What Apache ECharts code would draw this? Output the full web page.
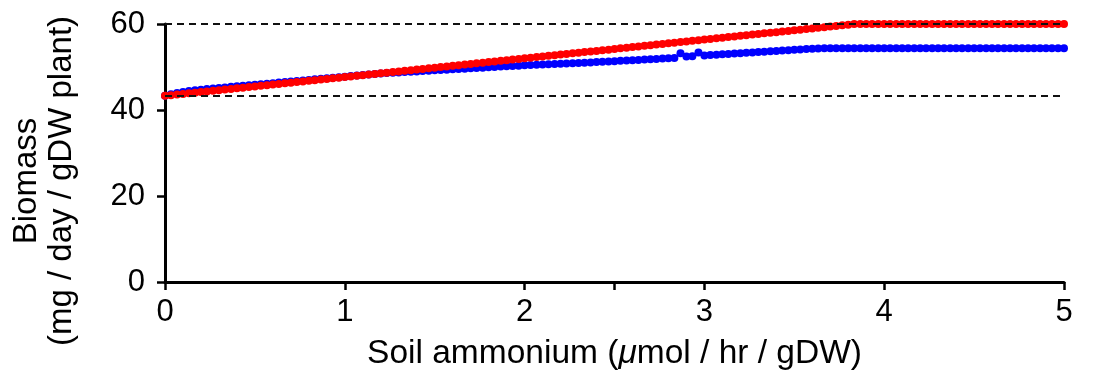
<!DOCTYPE html>
<html>
<head>
<meta charset="utf-8">
<script src="https://cdn.jsdelivr.net/npm/echarts@6/dist/echarts.min.js"></script>
<style>
  html, body { margin: 0; padding: 0; background: #fff; }
  #chart-biomass { width: 1096px; height: 376px; }
</style>
</head>
<body>
<div id="chart-biomass"></div>
<script>
// soil ammonium uptake (x), one sample every ~1/30
var ammonium = [
  0, 0.033, 0.067, 0.1, 0.133, 0.167, 0.2, 0.233, 0.267, 0.3, 0.333, 0.367, 0.4, 0.433, 0.467,
  0.5, 0.533, 0.567, 0.6, 0.633, 0.667, 0.7, 0.733, 0.767, 0.8, 0.833, 0.867, 0.9, 0.933, 0.967,
  1, 1.033, 1.067, 1.1, 1.133, 1.167, 1.2, 1.233, 1.267, 1.3, 1.333, 1.367, 1.4, 1.433, 1.467,
  1.5, 1.533, 1.567, 1.6, 1.633, 1.667, 1.7, 1.733, 1.767, 1.8, 1.833, 1.867, 1.9, 1.933, 1.967,
  2, 2.033, 2.067, 2.1, 2.133, 2.167, 2.2, 2.233, 2.267, 2.3, 2.333, 2.367, 2.4, 2.433, 2.467,
  2.5, 2.533, 2.567, 2.6, 2.633, 2.667, 2.7, 2.733, 2.767, 2.8, 2.833, 2.867, 2.9, 2.933, 2.967,
  3, 3.033, 3.067, 3.1, 3.133, 3.167, 3.2, 3.233, 3.267, 3.3, 3.333, 3.367, 3.4, 3.433, 3.467,
  3.5, 3.533, 3.567, 3.6, 3.633, 3.667, 3.7, 3.733, 3.767, 3.8, 3.833, 3.867, 3.9, 3.933, 3.967,
  4, 4.033, 4.067, 4.1, 4.133, 4.167, 4.2, 4.233, 4.267, 4.3, 4.333, 4.367, 4.4, 4.433, 4.467,
  4.5, 4.533, 4.567, 4.6, 4.633, 4.667, 4.7, 4.733, 4.767, 4.8, 4.833, 4.867, 4.9, 4.933, 4.967,
  5
];

// red series
var biomassRed = [
  43.30, 43.45, 43.59, 43.74, 43.88, 44.03, 44.17, 44.32, 44.46, 44.61, 44.75, 44.90, 45.04, 45.19, 45.33,
  45.48, 45.62, 45.77, 45.91, 46.06, 46.20, 46.35, 46.49, 46.64, 46.78, 46.93, 47.08, 47.22, 47.37, 47.51,
  47.66, 47.80, 47.95, 48.09, 48.24, 48.38, 48.53, 48.67, 48.82, 48.96, 49.11, 49.25, 49.40, 49.54, 49.69,
  49.83, 49.98, 50.12, 50.27, 50.41, 50.56, 50.71, 50.85, 51.00, 51.14, 51.29, 51.43, 51.58, 51.72, 51.87,
  52.01, 52.16, 52.30, 52.45, 52.59, 52.74, 52.88, 53.03, 53.17, 53.32, 53.46, 53.61, 53.75, 53.90, 54.04,
  54.19, 54.34, 54.48, 54.63, 54.77, 54.92, 55.06, 55.21, 55.35, 55.50, 55.64, 55.79, 55.93, 56.08, 56.22,
  56.37, 56.51, 56.66, 56.80, 56.95, 57.09, 57.24, 57.38, 57.53, 57.67, 57.82, 57.97, 58.11, 58.26, 58.40,
  58.55, 58.69, 58.84, 58.98, 59.13, 59.27, 59.42, 59.56, 59.71, 59.85, 60.00, 60, 60, 60, 60,
  60, 60, 60, 60, 60, 60, 60, 60, 60, 60, 60, 60, 60, 60, 60,
  60, 60, 60, 60, 60, 60, 60, 60, 60, 60, 60, 60, 60, 60, 60,
  60
];

// blue series
var biomassBlue = [
  43.30, 43.65, 43.95, 44.20, 44.40, 44.57, 44.72, 44.86, 45.00, 45.13, 45.25, 45.38, 45.50, 45.63, 45.75,
  45.88, 46.00, 46.13, 46.25, 46.38, 46.50, 46.63, 46.75, 46.88, 47.00, 47.13, 47.25, 47.38, 47.50, 47.63,
  47.75, 47.88, 48.00, 48.13, 48.25, 48.38, 48.50, 48.58, 48.66, 48.74, 48.82, 48.90, 48.98, 49.06, 49.14,
  49.22, 49.30, 49.37, 49.45, 49.53, 49.61, 49.69, 49.77, 49.85, 49.93, 50.01, 50.09, 50.17, 50.25, 50.31,
  50.38, 50.44, 50.50, 50.56, 50.63, 50.69, 50.76, 50.82, 50.88, 50.95, 51.01, 51.07, 51.14, 51.20, 51.28,
  51.35, 51.43, 51.50, 51.58, 51.65, 51.73, 51.80, 51.88, 51.95, 52.03, 52.10, 53.20, 52.45, 52.50, 53.35,
  52.70, 52.79, 52.87, 52.96, 53.05, 53.13, 53.22, 53.31, 53.39, 53.48, 53.57, 53.65, 53.74, 53.83, 53.92,
  54.00, 54.09, 54.16, 54.24, 54.30, 54.34, 54.35, 54.35, 54.35, 54.35, 54.35, 54.35, 54.35, 54.35, 54.35,
  54.35, 54.35, 54.35, 54.35, 54.35, 54.35, 54.35, 54.35, 54.35, 54.35, 54.35, 54.35, 54.35, 54.35, 54.35,
  54.35, 54.35, 54.35, 54.35, 54.35, 54.35, 54.35, 54.35, 54.35, 54.35, 54.35, 54.35, 54.35, 54.35, 54.35,
  54.35
];

var refLines = [60, 43.2];
var xTicks = [0, 1, 2, 2.5, 3, 4, 5];
var yTicks = [0, 20, 40, 60];

var myChart = echarts.init(document.getElementById('chart-biomass'));

function pairs(xs, ys) {
  var out = [];
  for (var i = 0; i < xs.length; i++) {
    out.push([xs[i], ys[i]]);
  }
  return out;
}

var font = '"Liberation Sans", Arial, Helvetica, sans-serif';

var option = {
  animation: false,
  grid: {
    left: 165,
    right: 32,
    top: 24,
    bottom: 93,
    containLabel: false
  },
  xAxis: {
    type: 'value',
    min: 0,
    max: 5,
    interval: 1,
    name: 'Soil ammonium ({mu|μ}mol / hr / gDW)',
    nameLocation: 'middle',
    nameGap: 55,
    nameTextStyle: {
      fontSize: 33.5,
      color: '#000',
      fontFamily: font,
      rich: {
        mu: { fontSize: 33.5, fontStyle: 'italic', color: '#000', fontFamily: font }
      }
    },
    splitLine: { show: false },
    axisLine: { lineStyle: { color: '#000', width: 3 } },
    axisTick: {
      inside: false,
      length: 8,
      customValues: xTicks,
      lineStyle: { color: '#000', width: 2.5 }
    },
    axisLabel: {
      margin: 15,
      fontSize: 31,
      color: '#000',
      fontFamily: font
    }
  },
  yAxis: {
    type: 'value',
    min: 0,
    max: 60,
    interval: 20,
    splitLine: { show: false },
    axisLine: { lineStyle: { color: '#000', width: 3 } },
    axisTick: {
      length: 8,
      customValues: yTicks,
      lineStyle: { color: '#000', width: 2.5 }
    },
    axisLabel: {
      margin: 20,
      fontSize: 31,
      color: '#000',
      fontFamily: font
    }
  },
  graphic: [{
    type: 'text',
    x: 44,
    y: 181,
    rotation: Math.PI / 2,
    style: {
      text: 'Biomass\n(mg / day / gDW plant)',
      fontSize: 33,
      fontFamily: font,
      fill: '#000',
      align: 'center',
      verticalAlign: 'middle',
      lineHeight: 35
    }
  }],
  series: [
    {
      name: 'blue',
      type: 'scatter',
      symbol: 'circle',
      symbolSize: 8,
      itemStyle: { color: '#0000ff', opacity: 1 },
      data: pairs(ammonium, biomassBlue),
      markLine: {
        silent: true,
        symbol: 'none',
        label: { show: false },
        lineStyle: { color: '#111', type: [7, 5], width: 2, opacity: 1 },
        data: refLines.map(function (v) { return { yAxis: v }; })
      }
    },
    {
      name: 'red',
      type: 'scatter',
      symbol: 'circle',
      symbolSize: 8,
      itemStyle: { color: '#ff0000', opacity: 1 },
      data: pairs(ammonium, biomassRed)
    }
  ]
};

myChart.setOption(option);
</script>
</body>
</html>
